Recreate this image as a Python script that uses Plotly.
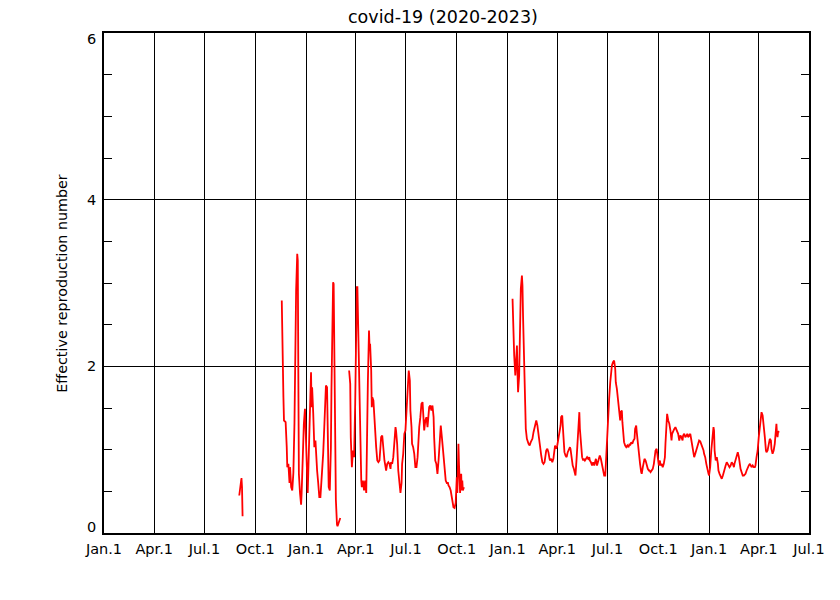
import plotly.graph_objects as go

# ---------------- data ----------------
seg1_dates = ["2020-09-02", "2020-09-04", "2020-09-06", "2020-09-07", "2020-09-08"]
seg1_vals = [0.45, 0.58, 0.66, 0.55, 0.20]

seg2_dates = [
    "2020-11-18", "2020-11-19", "2020-11-21", "2020-11-22", "2020-11-25", "2020-11-27", "2020-11-28",
    "2020-11-30", "2020-12-02", "2020-12-03", "2020-12-05", "2020-12-07", "2020-12-09", "2020-12-11",
    "2020-12-12", "2020-12-14", "2020-12-16", "2020-12-17", "2020-12-18", "2020-12-19", "2020-12-21",
    "2020-12-23", "2020-12-24", "2020-12-26", "2020-12-28", "2020-12-30", "2021-01-02", "2021-01-04",
    "2021-01-05", "2021-01-07", "2021-01-09", "2021-01-10", "2021-01-11", "2021-01-12", "2021-01-14",
    "2021-01-16", "2021-01-18", "2021-01-20", "2021-01-21", "2021-01-23", "2021-01-25", "2021-01-27",
    "2021-01-29", "2021-02-01", "2021-02-03", "2021-02-05", "2021-02-06", "2021-02-08", "2021-02-09",
    "2021-02-11", "2021-02-13", "2021-02-15", "2021-02-16", "2021-02-17", "2021-02-19", "2021-02-20",
    "2021-02-21", "2021-02-22", "2021-02-24", "2021-02-26", "2021-02-27", "2021-03-02", "2021-03-04",
]
seg2_vals = [
    2.79, 2.19, 1.63, 1.35, 1.33, 1.03, 0.79,
    0.83, 0.60, 0.79, 0.55, 0.51, 0.72, 1.32,
    1.99, 2.91, 3.35, 3.27, 1.91, 0.71, 0.48,
    0.34, 0.48, 1.11, 1.31, 1.49, 0.71, 0.48,
    0.72, 1.27, 1.71, 1.93, 1.51, 1.75, 1.43,
    1.03, 1.11, 0.79, 0.75, 0.60, 0.43, 0.43,
    0.63, 0.95, 1.27, 1.51, 1.77, 1.75, 1.11,
    0.55, 0.51, 1.03, 1.71, 2.31, 3.01, 2.99,
    2.31, 1.03, 0.40, 0.10, 0.08, 0.14, 0.18,
]

seg3_dates = [
    "2021-03-20", "2021-03-22", "2021-03-23", "2021-03-25", "2021-03-27", "2021-03-29", "2021-03-31",
    "2021-04-01", "2021-04-03", "2021-04-04", "2021-04-05", "2021-04-06", "2021-04-07", "2021-04-09",
    "2021-04-11", "2021-04-12", "2021-04-14", "2021-04-16", "2021-04-18", "2021-04-20", "2021-04-21",
    "2021-04-23", "2021-04-25", "2021-04-26", "2021-04-27", "2021-04-29", "2021-04-30", "2021-05-01",
    "2021-05-03", "2021-05-05", "2021-05-06", "2021-05-08", "2021-05-10", "2021-05-12", "2021-05-14",
    "2021-05-16", "2021-05-17", "2021-05-19", "2021-05-21", "2021-05-23", "2021-05-25", "2021-05-26",
    "2021-05-28", "2021-05-30", "2021-06-01", "2021-06-03", "2021-06-04", "2021-06-06", "2021-06-08",
    "2021-06-10", "2021-06-12", "2021-06-13", "2021-06-15", "2021-06-17", "2021-06-19", "2021-06-21",
    "2021-06-23", "2021-06-24", "2021-06-26", "2021-06-28", "2021-06-30", "2021-07-02", "2021-07-03",
    "2021-07-05", "2021-07-06", "2021-07-08", "2021-07-09", "2021-07-11", "2021-07-12", "2021-07-14",
    "2021-07-16", "2021-07-18", "2021-07-20", "2021-07-22", "2021-07-23", "2021-07-25", "2021-07-27",
    "2021-07-29", "2021-07-31", "2021-08-01", "2021-08-03", "2021-08-05", "2021-08-07", "2021-08-09",
    "2021-08-10", "2021-08-12", "2021-08-14", "2021-08-16", "2021-08-18", "2021-08-20", "2021-08-21",
    "2021-08-23", "2021-08-25", "2021-08-27", "2021-08-29", "2021-08-31", "2021-09-01", "2021-09-02",
    "2021-09-04", "2021-09-06", "2021-09-07", "2021-09-09", "2021-09-11", "2021-09-13", "2021-09-15",
    "2021-09-16", "2021-09-18", "2021-09-20", "2021-09-22", "2021-09-24", "2021-09-25", "2021-09-27",
    "2021-09-29", "2021-09-30", "2021-10-01", "2021-10-02", "2021-10-04", "2021-10-05", "2021-10-07",
    "2021-10-08", "2021-10-09", "2021-10-10", "2021-10-11", "2021-10-12", "2021-10-14",
]
seg3_vals = [
    1.95, 1.79, 1.15, 0.79, 0.99, 0.91, 1.55,
    2.35, 2.95, 2.95, 2.63, 2.23, 1.55, 0.95,
    0.63, 0.55, 0.63, 0.51, 0.63, 0.48, 1.15,
    1.83, 2.43, 2.23, 2.27, 1.95, 1.51, 1.63,
    1.59, 1.31, 1.15, 1.03, 0.87, 0.85, 0.87,
    1.07, 1.15, 1.17, 0.99, 0.87, 0.79, 0.75,
    0.83, 0.85, 0.83, 0.77, 0.85, 0.83, 0.91,
    1.11, 1.27, 1.23, 1.07, 0.75, 0.55, 0.48,
    0.60, 0.83, 0.95, 1.19, 1.23, 1.47, 1.67,
    1.79, 1.95, 1.83, 1.47, 1.27, 1.07, 1.03,
    0.95, 0.79, 0.79, 0.91, 1.11, 1.27, 1.39,
    1.55, 1.57, 1.43, 1.23, 1.35, 1.39, 1.27,
    1.35, 1.51, 1.53, 1.47, 1.53, 1.39, 1.15,
    0.87, 0.83, 0.71, 0.87, 1.07, 1.19, 1.29,
    1.15, 0.99, 0.91, 0.75, 0.63, 0.60, 0.60,
    0.57, 0.55, 0.51, 0.43, 0.36, 0.31, 0.30,
    0.36, 0.51, 0.67, 0.48, 1.07, 0.83, 0.48,
    0.67, 0.71, 0.51, 0.63, 0.51, 0.55,
]

seg4_dates = [
    "2022-01-10", "2022-01-11", "2022-01-13", "2022-01-15", "2022-01-17", "2022-01-18", "2022-01-19",
    "2022-01-20", "2022-01-22", "2022-01-23", "2022-01-24", "2022-01-25", "2022-01-27", "2022-01-28",
    "2022-01-29", "2022-01-30", "2022-01-31", "2022-02-02", "2022-02-03", "2022-02-05", "2022-02-08",
    "2022-02-10", "2022-02-12", "2022-02-15", "2022-02-17", "2022-02-20", "2022-02-22", "2022-02-24",
    "2022-02-26", "2022-02-28", "2022-03-01", "2022-03-03", "2022-03-05", "2022-03-07", "2022-03-09",
    "2022-03-10", "2022-03-12", "2022-03-14", "2022-03-16", "2022-03-18", "2022-03-19", "2022-03-21",
    "2022-03-23", "2022-03-25", "2022-03-27", "2022-03-28", "2022-03-30", "2022-04-01", "2022-04-03",
    "2022-04-05", "2022-04-07", "2022-04-08", "2022-04-10", "2022-04-11", "2022-04-13", "2022-04-14",
    "2022-04-16", "2022-04-18", "2022-04-20", "2022-04-22", "2022-04-24", "2022-04-25", "2022-04-27",
    "2022-04-29", "2022-05-01", "2022-05-03", "2022-05-04", "2022-05-06", "2022-05-08", "2022-05-10",
    "2022-05-11", "2022-05-12", "2022-05-14", "2022-05-16", "2022-05-18", "2022-05-19", "2022-05-21",
    "2022-05-23", "2022-05-25", "2022-05-27", "2022-05-29", "2022-05-30", "2022-06-01", "2022-06-03",
    "2022-06-05", "2022-06-07", "2022-06-08", "2022-06-10", "2022-06-12", "2022-06-14", "2022-06-16",
    "2022-06-17", "2022-06-19", "2022-06-21", "2022-06-23", "2022-06-25", "2022-06-27", "2022-06-28",
    "2022-06-30", "2022-07-02", "2022-07-04", "2022-07-06", "2022-07-07", "2022-07-09", "2022-07-11",
    "2022-07-13", "2022-07-15", "2022-07-16", "2022-07-18", "2022-07-20", "2022-07-22", "2022-07-24",
    "2022-07-25", "2022-07-27", "2022-07-28", "2022-07-30", "2022-07-31", "2022-08-02", "2022-08-04",
    "2022-08-06", "2022-08-08", "2022-08-10", "2022-08-11", "2022-08-13", "2022-08-15", "2022-08-17",
    "2022-08-19", "2022-08-20", "2022-08-22", "2022-08-23", "2022-08-25", "2022-08-27", "2022-08-29",
    "2022-08-31", "2022-09-01", "2022-09-03", "2022-09-05", "2022-09-06", "2022-09-08", "2022-09-10",
    "2022-09-12", "2022-09-14", "2022-09-15", "2022-09-17", "2022-09-19", "2022-09-21", "2022-09-23",
    "2022-09-25", "2022-09-26", "2022-09-28", "2022-09-30", "2022-10-02", "2022-10-04", "2022-10-05",
    "2022-10-07", "2022-10-09", "2022-10-11", "2022-10-13", "2022-10-14", "2022-10-16", "2022-10-17",
    "2022-10-19", "2022-10-21", "2022-10-23", "2022-10-25", "2022-10-26", "2022-10-28", "2022-10-30",
    "2022-11-01", "2022-11-03", "2022-11-04", "2022-11-06", "2022-11-08", "2022-11-10", "2022-11-12",
    "2022-11-14", "2022-11-15", "2022-11-17", "2022-11-19", "2022-11-21", "2022-11-23", "2022-11-24",
    "2022-11-26", "2022-11-28", "2022-11-30", "2022-12-02", "2022-12-03", "2022-12-05", "2022-12-07",
    "2022-12-09", "2022-12-11", "2022-12-13", "2022-12-14", "2022-12-16", "2022-12-18", "2022-12-20",
    "2022-12-22", "2022-12-23", "2022-12-25", "2022-12-27", "2022-12-29", "2022-12-31", "2023-01-01",
    "2023-01-03", "2023-01-05", "2023-01-07", "2023-01-09", "2023-01-10", "2023-01-11", "2023-01-13",
    "2023-01-15", "2023-01-17", "2023-01-18", "2023-01-20", "2023-01-22", "2023-01-24", "2023-01-26",
    "2023-01-28", "2023-01-29", "2023-01-31", "2023-02-02", "2023-02-04", "2023-02-06", "2023-02-07",
    "2023-02-09", "2023-02-11", "2023-02-13", "2023-02-15", "2023-02-16", "2023-02-18", "2023-02-20",
    "2023-02-22", "2023-02-24", "2023-02-25", "2023-02-27", "2023-03-01", "2023-03-03", "2023-03-05",
    "2023-03-07", "2023-03-08", "2023-03-10", "2023-03-12", "2023-03-14", "2023-03-16", "2023-03-17",
    "2023-03-19", "2023-03-21", "2023-03-23", "2023-03-25", "2023-03-26", "2023-03-28", "2023-03-30",
    "2023-04-01", "2023-04-03", "2023-04-05", "2023-04-06", "2023-04-08", "2023-04-10", "2023-04-12",
    "2023-04-14", "2023-04-15", "2023-04-17", "2023-04-19", "2023-04-21", "2023-04-23", "2023-04-24",
    "2023-04-26", "2023-04-28", "2023-04-30", "2023-05-02", "2023-05-03", "2023-05-04", "2023-05-05",
    "2023-05-06", "2023-05-08",
]
seg4_vals = [
    2.81, 2.41, 2.13, 1.89, 2.21, 2.25, 1.93,
    1.69, 1.89, 2.17, 2.61, 2.93, 3.09, 2.97,
    2.61, 2.21, 1.89, 1.53, 1.25, 1.13, 1.07,
    1.05, 1.09, 1.13, 1.21, 1.31, 1.35, 1.29,
    1.17, 1.05, 0.97, 0.93, 0.85, 0.83, 0.85,
    0.93, 0.99, 1.01, 0.97, 0.89, 0.87, 0.89,
    0.85, 0.89, 1.05, 1.05, 1.01, 1.05, 1.13,
    1.21, 1.29, 1.39, 1.41, 1.29, 1.13, 0.97,
    0.93, 0.91, 0.97, 1.01, 1.03, 1.01, 0.89,
    0.81, 0.77, 0.73, 0.69, 0.89, 1.13, 1.33,
    1.45, 1.25, 1.01, 0.91, 0.87, 0.89, 0.87,
    0.89, 0.91, 0.89, 0.91, 0.87, 0.85, 0.81,
    0.85, 0.81, 0.85, 0.89, 0.81, 0.85, 0.91,
    0.93, 0.89, 0.81, 0.73, 0.69, 0.69, 0.85,
    1.13, 1.41, 1.61, 1.81, 1.93, 2.01, 2.05,
    2.07, 1.97, 1.81, 1.73, 1.57, 1.41, 1.35,
    1.45, 1.47, 1.33, 1.13, 1.09, 1.05, 1.03,
    1.05, 1.03, 1.07, 1.05, 1.09, 1.07, 1.11,
    1.13, 1.25, 1.29, 1.21, 1.05, 0.89, 0.83,
    0.73, 0.71, 0.79, 0.87, 0.89, 0.87, 0.81,
    0.77, 0.75, 0.75, 0.73, 0.75, 0.77, 0.83,
    0.91, 0.99, 1.01, 0.87, 0.81, 0.87, 0.81,
    0.83, 0.79, 0.83, 0.91, 1.07, 1.27, 1.43,
    1.35, 1.31, 1.23, 1.11, 1.19, 1.23, 1.25,
    1.27, 1.23, 1.21, 1.19, 1.11, 1.17, 1.15,
    1.11, 1.17, 1.19, 1.15, 1.17, 1.19, 1.15,
    1.17, 1.19, 1.11, 1.03, 0.95, 0.91, 0.95,
    0.99, 1.05, 1.09, 1.11, 1.10, 1.07, 1.03,
    0.99, 0.95, 0.91, 0.83, 0.75, 0.71, 0.69,
    0.79, 0.99, 1.15, 1.27, 1.23, 0.99, 0.87,
    0.91, 0.83, 0.75, 0.71, 0.67, 0.65, 0.69,
    0.75, 0.79, 0.81, 0.85, 0.83, 0.81, 0.79,
    0.81, 0.85, 0.83, 0.79, 0.83, 0.89, 0.95,
    0.97, 0.91, 0.83, 0.77, 0.73, 0.69, 0.69,
    0.71, 0.71, 0.75, 0.79, 0.81, 0.83, 0.81,
    0.79, 0.81, 0.79, 0.79, 0.81, 0.91, 0.99,
    1.15, 1.31, 1.39, 1.45, 1.41, 1.31, 1.15,
    0.99, 0.97, 0.99, 1.07, 1.13, 1.11, 1.01,
    0.95, 0.99, 1.07, 1.27, 1.31, 1.19, 1.15,
    1.21, 1.22,
]

x_tick_dates = ["2020-01-01", "2020-04-01", "2020-07-01", "2020-10-01",
                "2021-01-01", "2021-04-01", "2021-07-01", "2021-10-01",
                "2022-01-01", "2022-04-01", "2022-07-01", "2022-10-01",
                "2023-01-01", "2023-04-01", "2023-07-01"]
x_tick_labels = ["Jan.1", "Apr.1", "Jul.1", "Oct.1"] * 3 + ["Jan.1", "Apr.1", "Jul.1"]
y_tick_vals = [0, 2, 4, 6]
y_tick_labels = ["0", "2", "4", "6"]

title_text = "covid-19 (2020-2023)"
y_title = "Effective reproduction number"

# ---------------- figure ----------------
FONT = "DejaVu Sans"
fig = go.Figure()

xs, ys = [], []
for d, v in [(seg1_dates, seg1_vals), (seg2_dates, seg2_vals),
             (seg3_dates, seg3_vals), (seg4_dates, seg4_vals)]:
    xs += d + [None]
    ys += v + [None]

fig.add_trace(go.Scatter(x=xs, y=ys, mode="lines", connectgaps=False,
                         line=dict(color="#ff0000", width=1.8),
                         showlegend=False, hoverinfo="skip"))
# invisible trace for the mirrored right-hand axis
fig.add_trace(go.Scatter(x=[x_tick_dates[0]], y=[0], yaxis="y2", mode="markers",
                         marker=dict(opacity=0), showlegend=False, hoverinfo="skip"))

fig.update_layout(
    width=840, height=600,
    paper_bgcolor="white", plot_bgcolor="white",
    margin=dict(l=104, r=31, t=33, b=67, autoexpand=False),
    font=dict(family=FONT, size=13, color="black"),
    xaxis=dict(
        type="date", range=[x_tick_dates[0], x_tick_dates[-1]],
        tickvals=x_tick_dates, ticktext=x_tick_labels,
        showgrid=True, gridcolor="black", gridwidth=1,
        ticks="", showline=True, linecolor="black", linewidth=2, mirror=True,
        zeroline=False, tickfont=dict(size=14.5), ticklabelstandoff=2,
    ),
    yaxis=dict(
        range=[0, 6], tickvals=y_tick_vals, ticktext=[""] * len(y_tick_vals),
        showgrid=True, gridcolor="black", gridwidth=1,
        ticks="inside", ticklen=8, tickcolor="black",
        minor=dict(dtick=0.5, ticks="inside", ticklen=8, tickcolor="black", showgrid=False),
        showline=True, linecolor="black", linewidth=2, mirror=True,
        zeroline=False,
    ),
    yaxis2=dict(
        overlaying="y", side="right", range=[0, 6],
        tickvals=y_tick_vals, ticktext=[""] * len(y_tick_vals),
        ticks="inside", ticklen=8, tickcolor="black",
        minor=dict(dtick=0.5, ticks="inside", ticklen=8, tickcolor="black", showgrid=False),
        showgrid=False, zeroline=False, showline=False,
    ),
)

# y tick labels (slightly pulled inward at the ends like the reference)
label_shift = [6, 0, 0, -6]
for v, t, s in zip(y_tick_vals, y_tick_labels, label_shift):
    fig.add_annotation(x=-0.008, xref="paper", y=v, yref="y", text=t,
                       showarrow=False, xanchor="right", yanchor="middle",
                       yshift=s, font=dict(size=14.5, family=FONT))

fig.add_annotation(x=-0.06, xref="paper", y=0.5, yref="paper", text=y_title,
                   textangle=-90, showarrow=False, xanchor="center", yanchor="middle",
                   font=dict(size=14.3, family=FONT))

fig.add_annotation(x=0.481, xref="paper", y=1, yref="paper", yshift=16,
                   text=title_text, showarrow=False, xanchor="center", yanchor="middle",
                   font=dict(size=17.5, family=FONT))

fig.write_html("out.html", config={"displayModeBar": False},
               post_script="document.body.style.margin='0px';document.body.style.padding='0px';")
